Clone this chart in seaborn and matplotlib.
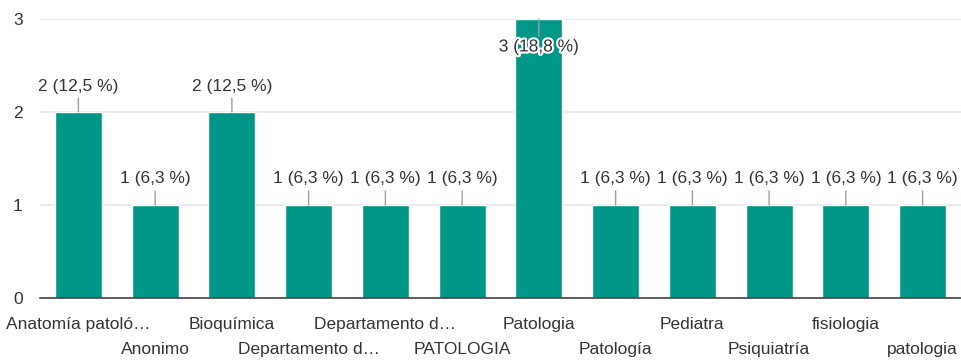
import matplotlib
matplotlib.use("Agg")
import matplotlib.pyplot as plt
import matplotlib.patheffects as pe
import seaborn as sns
import pandas as pd

# Responses per department
categories = [
    "Anatomía patoló…", "Anonimo", "Bioquímica", "Departamento d…",
    "Departamento d… ", "PATOLOGIA", "Patologia", "Patología",
    "Pediatra", "Psiquiatría", "fisiologia", "patologia",
]
counts = [2, 1, 2, 1, 1, 1, 3, 1, 1, 1, 1, 1]
percent_labels = [
    "2 (12,5 %)", "1 (6,3 %)", "2 (12,5 %)", "1 (6,3 %)",
    "1 (6,3 %)", "1 (6,3 %)", "3 (18,8 %)", "1 (6,3 %)",
    "1 (6,3 %)", "1 (6,3 %)", "1 (6,3 %)", "1 (6,3 %)",
]
y_ticks = [0, 1, 2, 3]

df = pd.DataFrame({"category": categories, "count": counts})

sns.set_style("white")
plt.rcParams["font.family"] = ["Liberation Sans", "DejaVu Sans"]

text_color = "#333333"
bar_color = "#009688"
fs = 12.5

fig = plt.figure(figsize=(9.61, 3.61), dpi=100)
ax = fig.add_axes([40 / 961, 63 / 361, 921 / 961, 279 / 361])

sns.barplot(data=df, x="category", y="count", color=bar_color,
            saturation=1, width=0.61, ax=ax, zorder=2)

ax.set_xlim(-0.5, len(categories) - 0.5)
ax.set_ylim(0, 3)
ax.set_yticks(y_ticks)
ax.set_yticklabels([str(t) for t in y_ticks], fontsize=fs, color=text_color)
ax.yaxis.grid(True, color="#e6e6e6", linewidth=1.2, zorder=0)
ax.set_axisbelow(True)
for side in ("top", "right", "left"):
    ax.spines[side].set_visible(False)
ax.spines["bottom"].set_color("#444444")
ax.spines["bottom"].set_linewidth(1.2)
ax.tick_params(axis="both", length=0)
ax.tick_params(axis="y", pad=12.5)
ax.set_xlabel("")
ax.set_ylabel("")

# Staggered category labels on two rows
ax.set_xticks(range(len(categories)))
ax.set_xticklabels([c.strip() for c in categories], fontsize=fs, color=text_color)
for i, tick in enumerate(ax.xaxis.get_major_ticks()):
    tick.set_pad(13.5 if i % 2 == 0 else 31.5)

# Value labels with a short leader line to the bar top
ymax = ax.get_ylim()[1]
for bar, label in zip(ax.patches, percent_labels):
    x = bar.get_x() + bar.get_width() / 2
    h = bar.get_height()
    if h >= ymax - 0.01:
        ax.annotate(label, xy=(x, h), xytext=(0, -28), textcoords="offset pixels",
                    ha="center", va="center", fontsize=fs, color=text_color, zorder=5,
                    path_effects=[pe.withStroke(linewidth=3, foreground="white")])
        ax.annotate("", xy=(x, h), xytext=(0, -17), textcoords="offset pixels",
                    arrowprops=dict(arrowstyle="-", color="#9e9e9e", lw=1,
                                    shrinkA=0, shrinkB=0), zorder=4)
    else:
        ax.annotate(label, xy=(x, h), xytext=(0, 26), textcoords="offset pixels",
                    ha="center", va="center", fontsize=fs, color=text_color,
                    zorder=5, annotation_clip=False)
        ax.annotate("", xy=(x, h), xytext=(0, 14), textcoords="offset pixels",
                    arrowprops=dict(arrowstyle="-", color="#9e9e9e", lw=1,
                                    shrinkA=0, shrinkB=0), zorder=4)

fig.savefig("out.png", dpi=100, facecolor="white")
